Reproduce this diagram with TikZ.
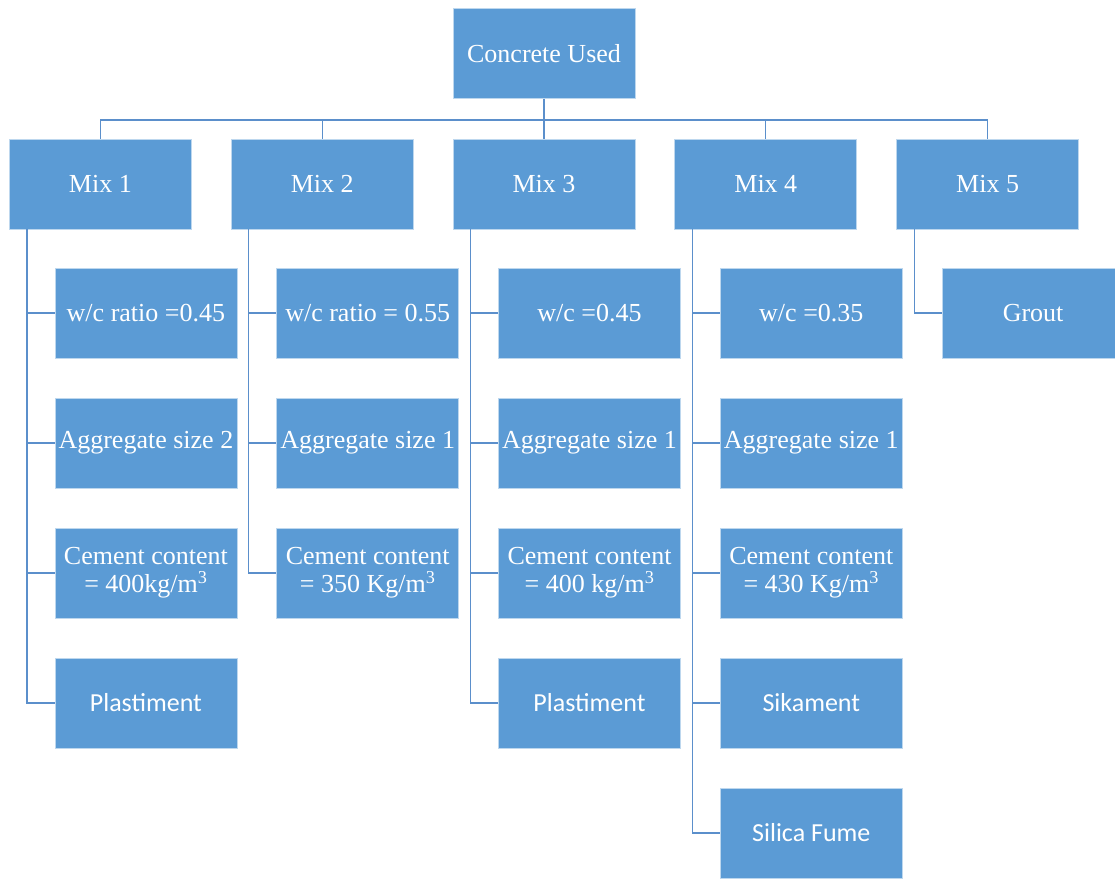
\documentclass[tikz,border=0pt]{standalone}
\usepackage{fontspec}
\setmainfont{Liberation Serif}
\newfontfamily\calibfont{Carlito}
\usetikzlibrary{positioning}
\definecolor{boxblue}{HTML}{5B9BD5}
\definecolor{linkblue}{HTML}{5B8FCB}
\tikzset{
  mixbox/.style={rectangle, fill=boxblue, draw=boxblue!40!white, line width=0.8pt,
    text=white, minimum width=182pt, minimum height=90pt, inner sep=0pt,
    align=center, font=\fontsize{26}{28}\selectfont},
  sansbox/.style={mixbox, font=\calibfont\fontsize{26}{28}\selectfont},
  link/.style={draw=linkblue, line width=1.3pt}
}
\begin{document}
\begin{tikzpicture}[x=1pt,y=-1pt,node distance=130pt,on grid]
\useasboundingbox (0,0) rectangle (1115,878);
% top and the five mixes
\node[mixbox] (top) at (544,53.5) {Concrete Used};
\node[mixbox] (m3) [below=130.5pt of top] {Mix 3};
\node[mixbox] (m2) [left=221.8pt of m3] {Mix 2};
\node[mixbox] (m1) [left=221.8pt of m2] {Mix 1};
\node[mixbox] (m4) [right=221.8pt of m3] {Mix 4};
\node[mixbox] (m5) [right=221.8pt of m4] {Mix 5};
% mix 1
\node[mixbox] (m1a) [below right=129pt and 45.5pt of m1] {w/c ratio =0.45};
\node[mixbox] (m1b) [below=of m1a] {Aggregate size 2};
\node[mixbox] (m1c) [below=of m1b] {Cement content\\= 400kg/m\textsuperscript{3}};
\node[sansbox] (m1d) [below=of m1c] {Plastiment};
% mix 2
\node[mixbox] (m2a) [below right=129pt and 45.5pt of m2] {w/c ratio = 0.55};
\node[mixbox] (m2b) [below=of m2a] {Aggregate size 1};
\node[mixbox] (m2c) [below=of m2b] {Cement content\\= 350 Kg/m\textsuperscript{3}};
% mix 3
\node[mixbox] (m3a) [below right=129pt and 45.5pt of m3] {w/c =0.45};
\node[mixbox] (m3b) [below=of m3a] {Aggregate size 1};
\node[mixbox] (m3c) [below=of m3b] {Cement content\\= 400 kg/m\textsuperscript{3}};
\node[sansbox] (m3d) [below=of m3c] {Plastiment};
% mix 4
\node[mixbox] (m4a) [below right=129pt and 45.5pt of m4] {w/c =0.35};
\node[mixbox] (m4b) [below=of m4a] {Aggregate size 1};
\node[mixbox] (m4c) [below=of m4b] {Cement content\\= 430 Kg/m\textsuperscript{3}};
\node[sansbox] (m4d) [below=of m4c] {Sikament};
\node[sansbox] (m4e) [below=of m4d] {Silica Fume};
% mix 5
\node[mixbox] (m5a) [below right=129pt and 45.5pt of m5] {Grout};

% connectors
\coordinate (bus) at (544,120);
\draw[link] (top.south) -- (bus);
\foreach \m in {m1,m2,m3,m4,m5}
  \draw[link] (\m.north) |- (bus);
\foreach \c in {m1a,m1b,m1c,m1d}
  \draw[link] ([xshift=18pt]m1.south west) |- (\c.west);
\foreach \c in {m2a,m2b,m2c}
  \draw[link] ([xshift=18pt]m2.south west) |- (\c.west);
\foreach \c in {m3a,m3b,m3c,m3d}
  \draw[link] ([xshift=18pt]m3.south west) |- (\c.west);
\foreach \c in {m4a,m4b,m4c,m4d,m4e}
  \draw[link] ([xshift=18pt]m4.south west) |- (\c.west);
\draw[link] ([xshift=18pt]m5.south west) |- (m5a.west);
\end{tikzpicture}
\end{document}
